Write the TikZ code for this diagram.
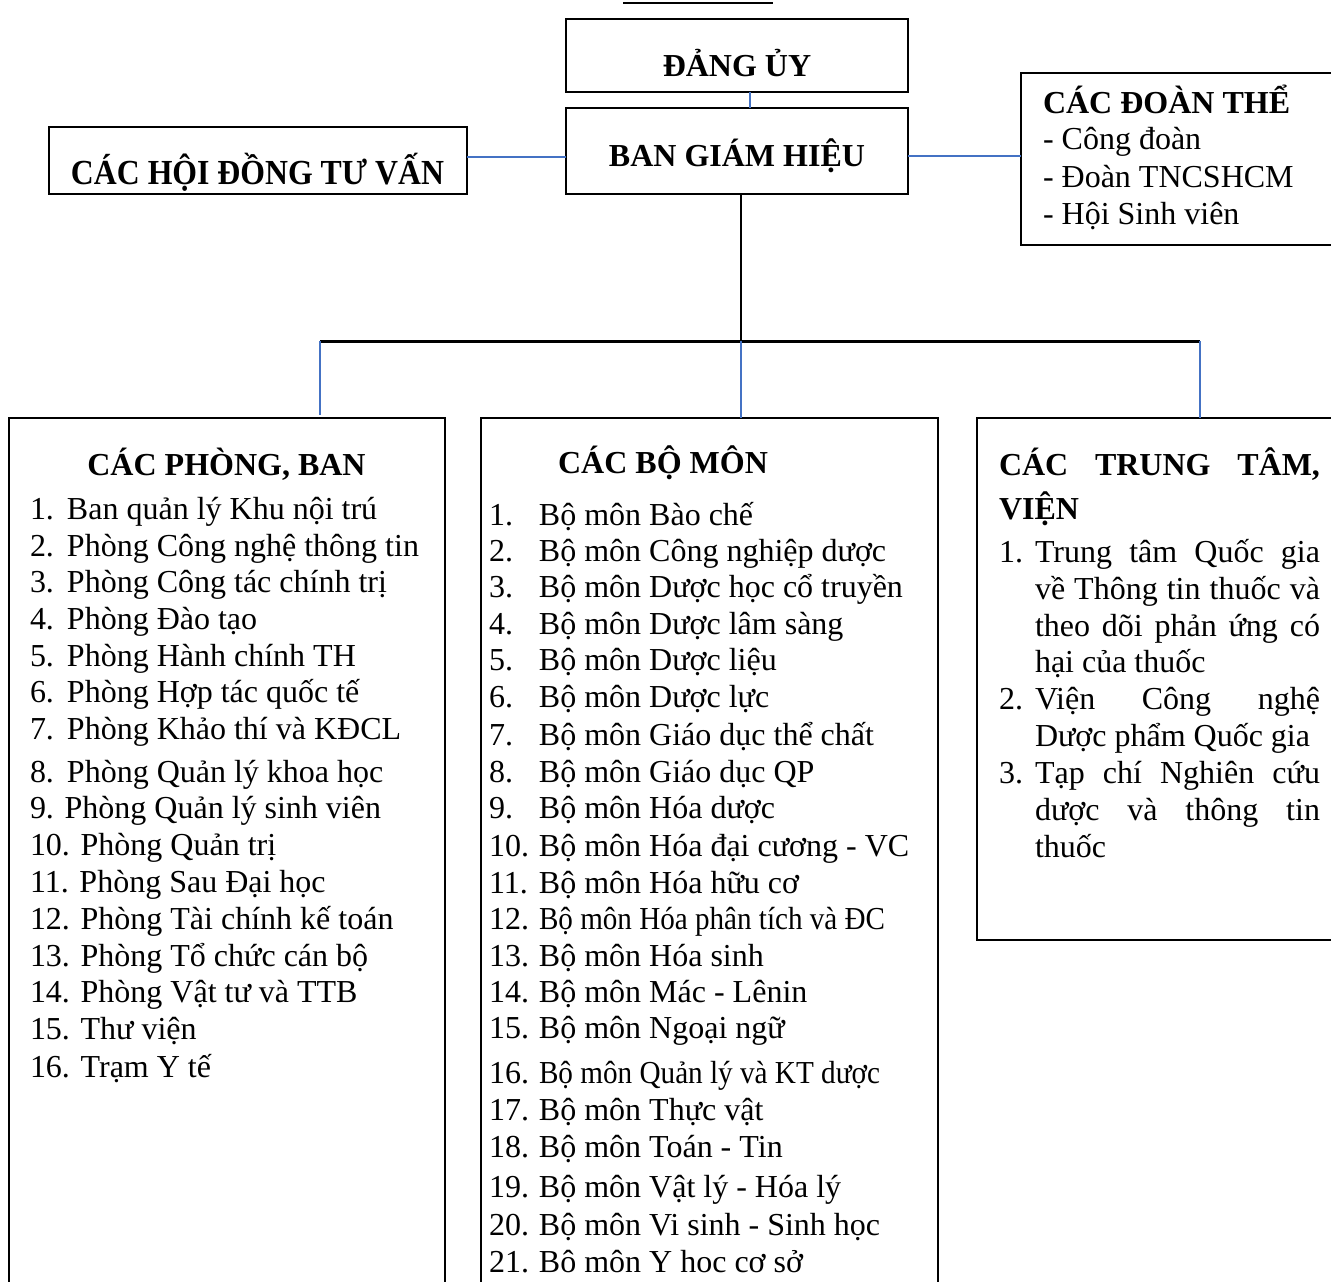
\documentclass[tikz,border=0pt]{standalone}
\usepackage{fontspec}
\setmainfont{Liberation Serif}
\usepackage{graphicx}
\definecolor{wordblue}{RGB}{68,114,196}
\tikzset{
  box/.style={draw=black, line width=2pt, inner sep=0pt, outer sep=0pt, anchor=north west},
  txt/.style={anchor=base west, inner sep=0pt, outer sep=0pt, font=\fontsize{32}{37}\selectfont},
  ttl/.style={anchor=base, inner sep=0pt, outer sep=0pt, font=\fontsize{32}{37}\selectfont\bfseries},
  bl/.style={draw=wordblue, line width=2pt},
  blk/.style={draw=black, line width=2pt},
  busline/.style={draw=black, line width=3pt},
}
\newcommand\itm[5]{\node[txt] (#1) at (#2) {\makebox[#3][l]{#4}#5};}
\begin{document}
\begin{tikzpicture}[x=1pt,y=-1pt]
\useasboundingbox (0,0) rectangle (1331,1282);
\clip (0,0) rectangle (1331,1282);
\fill[white] (0,0) rectangle (1331,1282);
% top stub line
\draw[blk] (623,3) -- (773,3);
% boxes
\node[box, minimum width=342pt, minimum height=73pt] (dangu) at (566,19) {};
\node[box, minimum width=342pt, minimum height=86pt] (bgh) at (566,108) {};
\node[box, minimum width=418pt, minimum height=67pt] (hd) at (49,127) {};
\node[box, minimum width=400pt, minimum height=172pt] (dt) at (1021,73) {};
\node[box, minimum width=436pt, minimum height=950pt] (phong) at (9,418) {};
\node[box, minimum width=457pt, minimum height=950pt] (mon) at (481,418) {};
\node[box, minimum width=400pt, minimum height=522pt] (tt) at (977,418) {};
% titles
\node[ttl] (tdangu) at (737,76) {ĐẢNG ỦY};
\node[ttl] (tbgh) at (737,166) {BAN GIÁM HIỆU};
\node[ttl] (thd) at (257.5,184) {\resizebox{373pt}{1.1\height}{CÁC HỘI ĐỒNG TƯ VẤN}};
\node[txt, font=\fontsize{32}{37}\selectfont\bfseries] (tdt) at (1043,113) {CÁC ĐOÀN THỂ};
\node[txt] (dt1) at (1043,149) {- Công đoàn};
\node[txt] (dt2) at (1043,187) {- Đoàn TNCSHCM};
\node[txt] (dt3) at (1043,224) {- Hội Sinh viên};
% connectors
\coordinate (cx) at (750,0);
\coordinate (hy) at (0,157);
\coordinate (ry) at (0,156);
\coordinate (busL) at (320,341);
\coordinate (busM) at (741,341);
\coordinate (busR) at (1200,341);
\draw[bl] (dangu.south -| cx) -- (bgh.north -| cx);
\draw[bl] (hd.east |- hy) -- (bgh.west |- hy);
\draw[bl] (bgh.east |- ry) -- (dt.west |- ry);
\draw[blk] (bgh.south -| busM) -- (busM);
\draw[busline] (busL) -- (busR);
\draw[bl] (busL) -- ([yshift=3pt]busL |- phong.north);
\draw[bl] (busM) -- (busM |- mon.north);
\draw[bl] (busR) -- (busR |- tt.north);
% left box
\node[ttl] (tphong) at (226.5,475) {CÁC PHÒNG, BAN};
\itm{p1}{30,519}{37pt}{1.}{Ban quản lý Khu nội trú}
\itm{p2}{30,556}{37pt}{2.}{Phòng Công nghệ thông tin}
\itm{p3}{30,592}{37pt}{3.}{Phòng Công tác chính trị}
\itm{p4}{30,629}{37pt}{4.}{Phòng Đào tạo}
\itm{p5}{30,666}{37pt}{5.}{Phòng Hành chính TH}
\itm{p6}{30,702}{37pt}{6.}{Phòng Hợp tác quốc tế}
\itm{p7}{30,739}{37pt}{7.}{Phòng Khảo thí và KĐCL}
\itm{p8}{30,782}{37pt}{8.}{Phòng Quản lý khoa học}
\itm{p9}{30,818}{0pt}{}{9. Phòng Quản lý sinh viên}
\itm{p10}{30,855}{0pt}{}{10. Phòng Quản trị}
\itm{p11}{30,892}{0pt}{}{11. Phòng Sau Đại học}
\itm{p12}{30,929}{0pt}{}{12. Phòng Tài chính kế toán}
\itm{p13}{30,966}{0pt}{}{13. Phòng Tổ chức cán bộ}
\itm{p14}{30,1002}{0pt}{}{14. Phòng Vật tư và TTB}
\itm{p15}{30,1039}{0pt}{}{15. Thư viện}
\itm{p16}{30,1077}{0pt}{}{16. Trạm Y tế}
% middle box
\node[ttl] (tmon) at (663,473) {CÁC BỘ MÔN};
\itm{m1}{489,525}{50pt}{1.}{Bộ môn Bào chế}
\itm{m2}{489,561}{50pt}{2.}{Bộ môn Công nghiệp dược}
\itm{m3}{489,597}{50pt}{3.}{Bộ môn Dược học cổ truyền}
\itm{m4}{489,634}{50pt}{4.}{Bộ môn Dược lâm sàng}
\itm{m5}{489,670}{50pt}{5.}{Bộ môn Dược liệu}
\itm{m6}{489,707}{50pt}{6.}{Bộ môn Dược lực}
\itm{m7}{489,745}{50pt}{7.}{Bộ môn Giáo dục thể chất}
\itm{m8}{489,782}{50pt}{8.}{Bộ môn Giáo dục QP}
\itm{m9}{489,818}{50pt}{9.}{Bộ môn Hóa dược}
\itm{m10}{489,856}{50pt}{10.}{Bộ môn Hóa đại cương - VC}
\itm{m11}{489,893}{50pt}{11.}{Bộ môn Hóa hữu cơ}
\itm{m12}{489,929}{50pt}{12.}{\resizebox{346pt}{\height}{Bộ môn Hóa phân tích và ĐC}}
\itm{m13}{489,966}{50pt}{13.}{Bộ môn Hóa sinh}
\itm{m14}{489,1002}{50pt}{14.}{Bộ môn Mác - Lênin}
\itm{m15}{489,1038}{50pt}{15.}{Bộ môn Ngoại ngữ}
\itm{m16}{489,1083}{50pt}{16.}{\resizebox{341pt}{\height}{Bộ môn Quản lý và KT dược}}
\itm{m17}{489,1120}{50pt}{17.}{Bộ môn Thực vật}
\itm{m18}{489,1157}{50pt}{18.}{Bộ môn Toán - Tin}
\itm{m19}{489,1197}{50pt}{19.}{Bộ môn Vật lý - Hóa lý}
\itm{m20}{489,1235}{50pt}{20.}{Bộ môn Vi sinh - Sinh học}
\itm{m21}{489,1272}{50pt}{21.}{Bô môn Y hoc cơ sở}
% right box
\node[txt, font=\fontsize{32}{37}\selectfont\bfseries] (ttt1) at (999,475) {\makebox[321pt][s]{CÁC TRUNG TÂM,}};
\node[txt, font=\fontsize{32}{37}\selectfont\bfseries] (ttt2) at (999,519) {VIỆN};
\itm{t1}{999,562}{36pt}{1.}{\makebox[285pt][s]{Trung tâm Quốc gia}}
\itm{t2}{999,599}{36pt}{}{\makebox[285pt][s]{về Thông tin thuốc và}}
\itm{t3}{999,636}{36pt}{}{\makebox[285pt][s]{theo dõi phản ứng có}}
\itm{t4}{999,672}{36pt}{}{hại của thuốc}
\itm{t5}{999,709}{36pt}{2.}{\makebox[285pt][s]{Viện Công nghệ}}
\itm{t6}{999,746}{36pt}{}{Dược phẩm Quốc gia}
\itm{t7}{999,783}{36pt}{3.}{\makebox[285pt][s]{Tạp chí Nghiên cứu}}
\itm{t8}{999,820}{36pt}{}{\makebox[285pt][s]{dược và thông tin}}
\itm{t9}{999,857}{36pt}{}{thuốc}
\end{tikzpicture}
\end{document}
